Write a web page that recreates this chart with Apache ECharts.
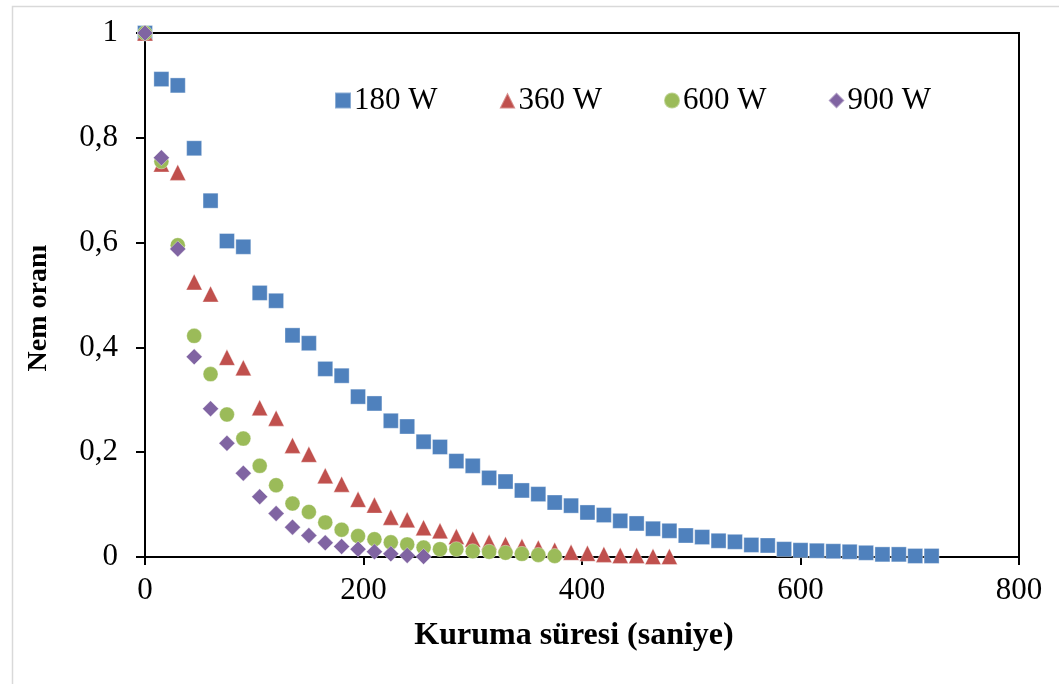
<!DOCTYPE html>
<html>
<head>
<meta charset="utf-8">
<script src="https://cdn.jsdelivr.net/npm/echarts@6/dist/echarts.min.js"></script>
<style>html,body{margin:0;padding:0;background:#fff;}#c{width:1059px;height:684px;}</style>
</head>
<body>
<div id="c"></div>
<script>
// Time steps (seconds), every 15 s
const times = [0,15,30,45,60,75,90,105,120,135,150,165,180,195,210,225,240,255,270,285,300,315,330,345,360,375,390,405,420,435,450,465,480,495,510,525,540,555,570,585,600,615,630,645,660,675,690,705,720];
const seriesNames = ['180 W','360 W','600 W','900 W'];
const w180 = [1,0.912,0.90,0.78,0.68,0.603,0.592,0.504,0.489,0.423,0.408,0.359,0.346,0.306,0.293,0.260,0.249,0.220,0.210,0.183,0.174,0.151,0.144,0.127,0.120,0.104,0.098,0.085,0.080,0.069,0.064,0.054,0.050,0.041,0.038,0.031,0.029,0.023,0.022,0.015,0.013,0.012,0.011,0.010,0.008,0.005,0.005,0.002,0.002];
const w360 = [1,0.75,0.734,0.525,0.502,0.381,0.361,0.285,0.265,0.213,0.196,0.155,0.139,0.110,0.099,0.076,0.071,0.056,0.050,0.039,0.034,0.028,0.024,0.020,0.017,0.013,0.009,0.007,0.005,0.003,0.003,0.001,0.001];
const w600 = [1,0.755,0.595,0.422,0.349,0.272,0.226,0.174,0.137,0.102,0.086,0.066,0.052,0.040,0.034,0.028,0.024,0.018,0.015,0.015,0.011,0.010,0.008,0.006,0.004,0.002];
const w900 = [1,0.762,0.588,0.382,0.283,0.217,0.160,0.115,0.083,0.057,0.041,0.027,0.020,0.015,0.010,0.006,0.003,0.001];
const xTicks = [0,200,400,600,800];
const yTicks = [0,0.2,0.4,0.6,0.8,1];

const colors = ['#4F81BD','#C0504D','#9BBB59','#8064A2'];
const symbols = ['rect','triangle','circle','diamond'];
const values = [w180,w360,w600,w900];

const chart = echarts.init(document.getElementById('c'), null, {renderer:'canvas'});
const font = '"Liberation Serif", "Times New Roman", serif';

const series = values.map((arr, i) => ({
  name: seriesNames[i],
  type: 'scatter',
  symbol: symbols[i],
  symbolSize: i === 3 ? 16 : (i === 1 ? 16 : 15),
  itemStyle: {color: colors[i], borderColor: 'rgba(255,255,255,0.35)', borderWidth: 1, opacity: 1},
  emphasis: {disabled: true},
  z: 2 + i,
  data: arr.map((v, k) => [times[k], v])
}));

chart.setOption({
  animation: false,
  backgroundColor: '#fff',
  grid: {left: 145, right: 40, top: 33, bottom: 127, show: true, borderColor: '#000', borderWidth: 2, backgroundColor: 'transparent'},
  legend: {
    left: 329, top: 80,
    itemWidth: 16, itemHeight: 16, itemGap: 61,
    textStyle: {fontFamily: font, fontSize: 31, color: '#000', padding: [0,0,0,-2]},
    data: seriesNames.map((n, i) => ({name: n, icon: symbols[i]}))
  },
  xAxis: {
    type: 'value', min: xTicks[0], max: xTicks[xTicks.length-1], interval: 200,
    axisLine: {show: true, lineStyle: {color: '#000', width: 2}},
    axisTick: {show: true, inside: false, length: 8, lineStyle: {color: '#000', width: 2}},
    splitLine: {show: false},
    axisLabel: {fontFamily: font, fontSize: 31, color: '#000', margin: 18}
  },
  yAxis: {
    type: 'value', min: yTicks[0], max: yTicks[yTicks.length-1], interval: 0.2,
    axisLine: {show: true, lineStyle: {color: '#000', width: 2}},
    axisTick: {show: true, inside: false, length: 9, lineStyle: {color: '#000', width: 2}},
    splitLine: {show: false},
    axisLabel: {fontFamily: font, fontSize: 31, color: '#000', margin: 27,
      formatter: v => String(Math.round(v*10)/10).replace('.', ',')}
  },
  graphic: [
    {type: 'rect', left: 10, top: 4, silent: true, z: -10,
      shape: {x: 0, y: 0, width: 1100, height: 800},
      style: {fill: 'none', stroke: '#d9d9d9', lineWidth: 1.5}},
    {type: 'text', silent: true, x: 574, y: 636,
      style: {text: 'Kuruma süresi (saniye)', font: 'bold 32px ' + font, fill: '#000', textAlign: 'center', textVerticalAlign: 'middle'}},
    {type: 'text', silent: true, rotation: Math.PI/2, x: 39, y: 308,
      style: {text: 'Nem oranı', font: 'bold 28px ' + font, fill: '#000', textAlign: 'center', textVerticalAlign: 'middle'}}
  ],
  series: series
});
</script>
</body>
</html>
